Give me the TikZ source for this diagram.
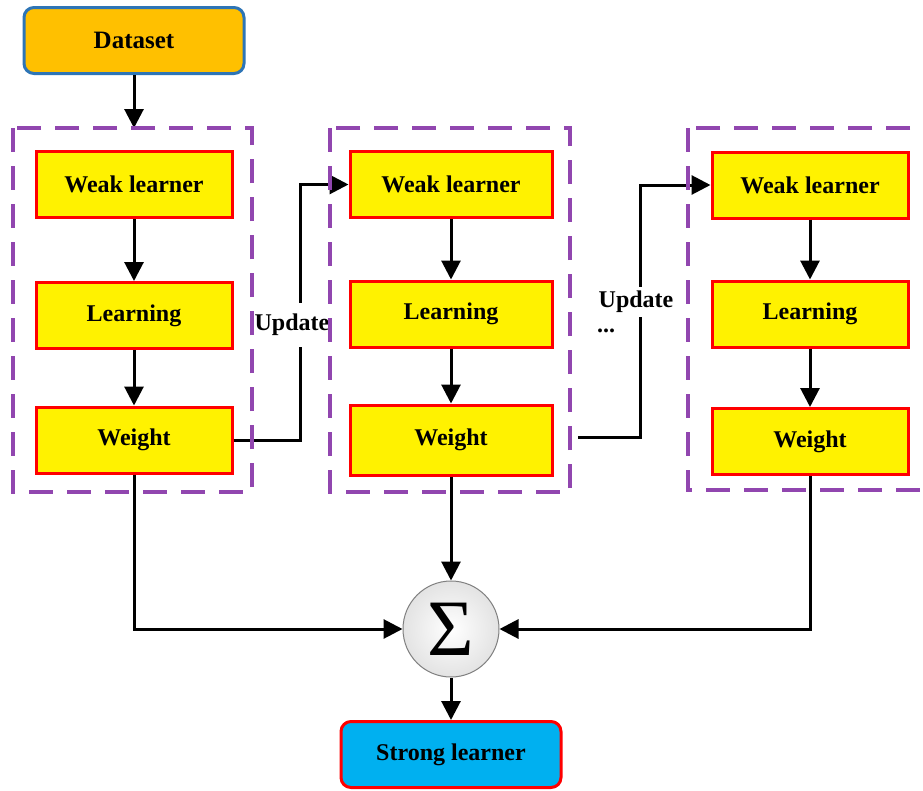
\documentclass[tikz,border=0pt]{standalone}
\usepackage{fontspec}
\setmainfont{Liberation Serif}
\usetikzlibrary{arrows.meta,positioning,shadings}
\definecolor{frameviolet}{RGB}{145,70,175}
\definecolor{dataorange}{RGB}{255,192,0}
\definecolor{databorder}{RGB}{46,117,182}
\definecolor{strongblue}{RGB}{0,176,240}
\begin{document}
\begin{tikzpicture}[x=1pt,y=-1pt,
  lbl/.style={font=\fontsize{24}{28}\selectfont\bfseries},
  yellowbox/.style={lbl,draw=red,fill=yellow,line width=3pt,
    minimum width=196pt,minimum height=66pt,inner sep=0pt},
  roundbox/.style={lbl,rounded corners=10pt,line width=3pt,
    minimum width=220pt,minimum height=66pt,inner sep=0pt},
  frame/.style={draw=frameviolet,line width=3.5pt,dash pattern=on 24pt off 14pt},
  flow/.style={line width=3pt,-{Triangle[length=19pt,width=19pt]}}]
\clip (0,0) rectangle (923,790);
\fill[white] (0,0) rectangle (923,790);

% input and output
\node[roundbox,fill=dataorange,draw=databorder,font=\fontsize{25}{29}\selectfont\bfseries]
  (data) at (134,40.5) {Dataset};
\node[roundbox,fill=strongblue,draw=red] (strong) at (451,754.5) {Strong learner};

% three boosting stages
\node[yellowbox] (k1) at (134,184.5) {Weak learner};
\node[yellowbox] (l1) at (134,315.5) {Learning};
\node[yellowbox] (g1) at (134,440) {Weight};

\node[yellowbox,minimum width=202pt] (k2) at (451,184.5) {Weak learner};
\node[yellowbox,minimum width=202pt] (l2) at (451,314) {Learning};
\node[yellowbox,minimum width=202pt,minimum height=70pt] (g2) at (451,440) {Weight};

\node[yellowbox] (k3) at (810,185) {Weak learner};
\node[yellowbox] (l3) at (810,314) {Learning};
\node[yellowbox] (g3) at (810,441.5) {Weight};

% summation node
\node[circle,draw=gray,line width=1pt,minimum size=96pt,inner sep=0pt,
  inner color=white,outer color=gray!22] (sum) at (451,629)
  {\fontsize{80}{80}\selectfont\raisebox{-4pt}{Σ}};

% arrows inside each stage
\foreach \c in {1,2,3}{
  \draw[flow] (k\c.south) -- (l\c.north);
  \draw[flow] (l\c.south) -- (g\c.north);
}

% dataset into the first stage
\coordinate (top1) at (134,128);
\draw[flow] (data.south) -- (top1);

% update links between stages
\draw[flow] (g1.east) -- (300,440) |- (k2.west);
\node[lbl,fill=white,inner sep=1pt,minimum height=44pt] (up1) at (292,325) {Update};

\coordinate (out2) at (578,437);
\draw[flow] (out2) -- (640,437) |- (k3.west);
\node[lbl,fill=white,inner sep=1pt,minimum height=30pt] (up2) at (636,302) {Update};
\node[lbl,inner sep=0pt] (dots) at (606,331) {...};

% weighted outputs into the sum
\draw[flow] (g1.south) |- (sum.west);
\draw[flow] (g2.south) -- (sum.north);
\draw[flow] (g3.south) |- (sum.east);
\draw[flow] (sum.south) -- (strong.north);

% dashed stage frames
\draw[frame] (13,128) rectangle (252,492);
\draw[frame] (330,128) rectangle (570,492);
\draw[frame] (688,128) rectangle (950,490);
\end{tikzpicture}
\end{document}
